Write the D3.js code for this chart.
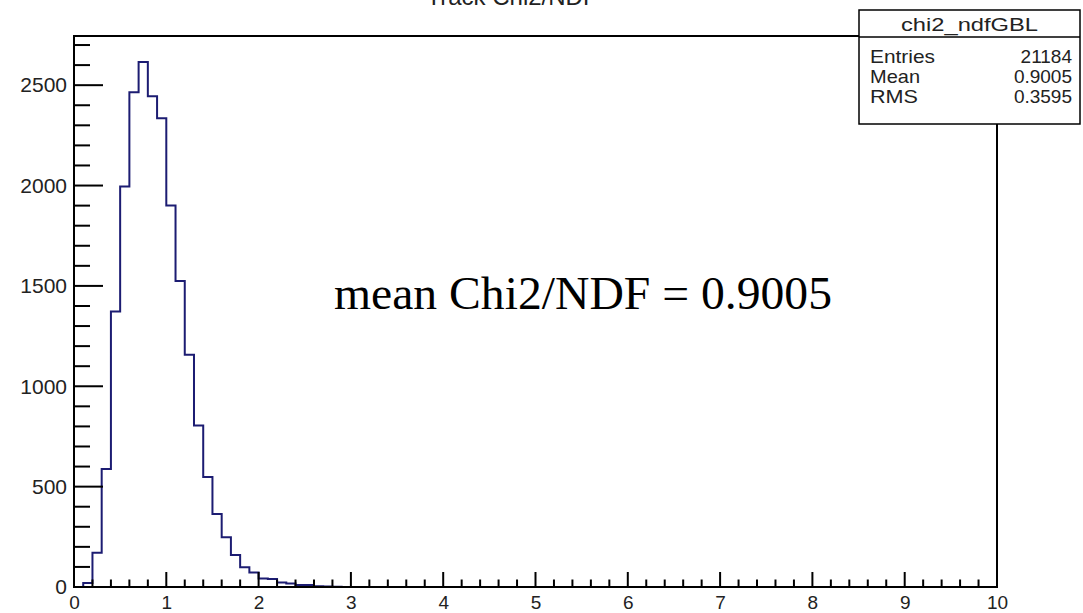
<!DOCTYPE html>
<html>
<head>
<meta charset="utf-8">
<script src="https://cdn.jsdelivr.net/npm/d3@7"></script>
<style>
  html, body { margin: 0; padding: 0; background: #fff; }
  svg { display: block; }
</style>
</head>
<body>
<svg id="chart"></svg>
<script>
// histogram chi2_ndfGBL, bins of 0.1 starting at 0 (rest up to 10 are empty)
const binWidth = 0.1;
const counts = [0, 20, 171, 588, 1372, 1995, 2465, 2615, 2445, 2335,
                1900, 1524, 1157, 805, 548, 364, 248, 160, 98, 72,
                42, 40, 22, 18, 10, 10, 4, 2, 1, 0];
const xMajorTicks = [0, 1, 2, 3, 4, 5, 6, 7, 8, 9, 10];
const yMajorTicks = [0, 500, 1000, 1500, 2000, 2500];
const statsLabels = ["Entries", "Mean", "RMS"];
const statsValues = ["21184", "0.9005", "0.3595"];

const W = 1083, H = 613;
const margin = {left: 74, right: 86, top: 36, bottom: 26};
const sans = "'Liberation Sans', Arial, Helvetica, sans-serif";
const serif = "'Liberation Serif', 'Times New Roman', serif";

const svg = d3.select("#chart").attr("width", W).attr("height", H);
svg.append("rect").attr("width", W).attr("height", H).attr("fill", "#fff");

const x = d3.scaleLinear().domain([0, 10]).range([margin.left, W - margin.right]);
const y = d3.scaleLinear().domain([0, 2745]).range([H - margin.bottom, margin.top]);

// title, mostly cut off at the top edge
svg.append("text")
   .attr("x", 512).attr("y", 5)
   .attr("text-anchor", "middle")
   .style("font-family", sans)
   .style("font-size", "24px")
   .attr("fill", "#222")
   .text("Track Chi2/NDF");

// histogram outline
const pts = [[0, 0]];
counts.forEach((c, i) => {
    pts.push([i * binWidth, c]);
    pts.push([(i + 1) * binWidth, c]);
});
pts.push([10, 0]);

const line = d3.line().x(d => x(d[0])).y(d => y(d[1]));
svg.append("path")
   .attr("d", line(pts))
   .attr("fill", "none")
   .attr("stroke", "#1c1c72")
   .attr("stroke-width", 2);

// x axis
const xAxis = d3.axisBottom(x)
    .tickValues(xMajorTicks)
    .tickSize(0)
    .tickPadding(9)
    .tickFormat(d3.format("d"));
const gx = svg.append("g")
   .attr("transform", `translate(0,${y(0)})`)
   .call(xAxis);
gx.select(".domain").remove();
gx.selectAll("text")
  .style("font-family", sans).style("font-size", "19px")
  .attr("fill", "#222");

const xMinor = d3.range(0, 51).map(i => i * 0.2);
svg.append("g").selectAll("line")
   .data(xMinor)
   .join("line")
   .attr("x1", d => x(d)).attr("x2", d => x(d))
   .attr("y1", y(0))
   .attr("y2", (d, i) => y(0) - (i % 5 === 0 ? 15 : 7.5))
   .attr("stroke", "#000")
   .attr("stroke-width", 2);

// y axis
const yAxis = d3.axisLeft(y)
    .tickValues(yMajorTicks)
    .tickSize(0)
    .tickPadding(7)
    .tickFormat(d3.format("d"));
const gy = svg.append("g")
   .attr("transform", `translate(${x(0)},0)`)
   .call(yAxis);
gy.select(".domain").remove();
gy.selectAll("text")
  .style("font-family", sans).style("font-size", "21px")
  .attr("fill", "#222");

const yMinor = d3.range(0, 28).map(i => i * 100);
svg.append("g").selectAll("line")
   .data(yMinor)
   .join("line")
   .attr("x1", x(0))
   .attr("x2", d => x(0) + (d % 500 === 0 ? 29 : 16))
   .attr("y1", d => y(d)).attr("y2", d => y(d))
   .attr("stroke", "#000")
   .attr("stroke-width", 2);

// frame
svg.append("rect")
   .attr("x", x(0)).attr("y", margin.top)
   .attr("width", x(10) - x(0))
   .attr("height", y(0) - margin.top)
   .attr("fill", "none")
   .attr("stroke", "#000")
   .attr("stroke-width", 2);

// annotation
svg.append("text")
   .attr("x", 334).attr("y", 309)
   .style("font-family", serif)
   .style("font-size", "47px")
   .attr("textLength", 498).attr("lengthAdjust", "spacingAndGlyphs")
   .attr("fill", "#000")
   .text("mean Chi2/NDF = 0.9005");

// stats box
const box = {x: 859, y: 10, w: 221, h: 114, head: 27};
const sb = svg.append("g");
sb.append("rect")
  .attr("x", box.x).attr("y", box.y)
  .attr("width", box.w).attr("height", box.h)
  .attr("fill", "#fff").attr("stroke", "#000").attr("stroke-width", 1.5);
sb.append("line")
  .attr("x1", box.x).attr("x2", box.x + box.w)
  .attr("y1", box.y + box.head).attr("y2", box.y + box.head)
  .attr("stroke", "#000").attr("stroke-width", 1.5);
sb.append("text")
  .attr("x", box.x + box.w / 2).attr("y", box.y + 21)
  .attr("text-anchor", "middle")
  .style("font-family", sans).style("font-size", "19px")
  .attr("textLength", 137).attr("lengthAdjust", "spacingAndGlyphs")
  .attr("fill", "#222")
  .text("chi2_ndfGBL");
const labW = [65, 50, 48];
statsLabels.forEach((lab, i) => {
    sb.append("text")
      .attr("x", box.x + 11).attr("y", 63 + i * 20)
      .style("font-family", sans).style("font-size", "19px")
      .attr("textLength", labW[i]).attr("lengthAdjust", "spacingAndGlyphs")
      .attr("fill", "#222")
      .text(lab);
    sb.append("text")
      .attr("x", box.x + box.w - 8).attr("y", 63 + i * 20)
      .attr("text-anchor", "end")
      .style("font-family", sans).style("font-size", "19px")
      .attr("fill", "#222")
      .text(statsValues[i]);
});
</script>
</body>
</html>
